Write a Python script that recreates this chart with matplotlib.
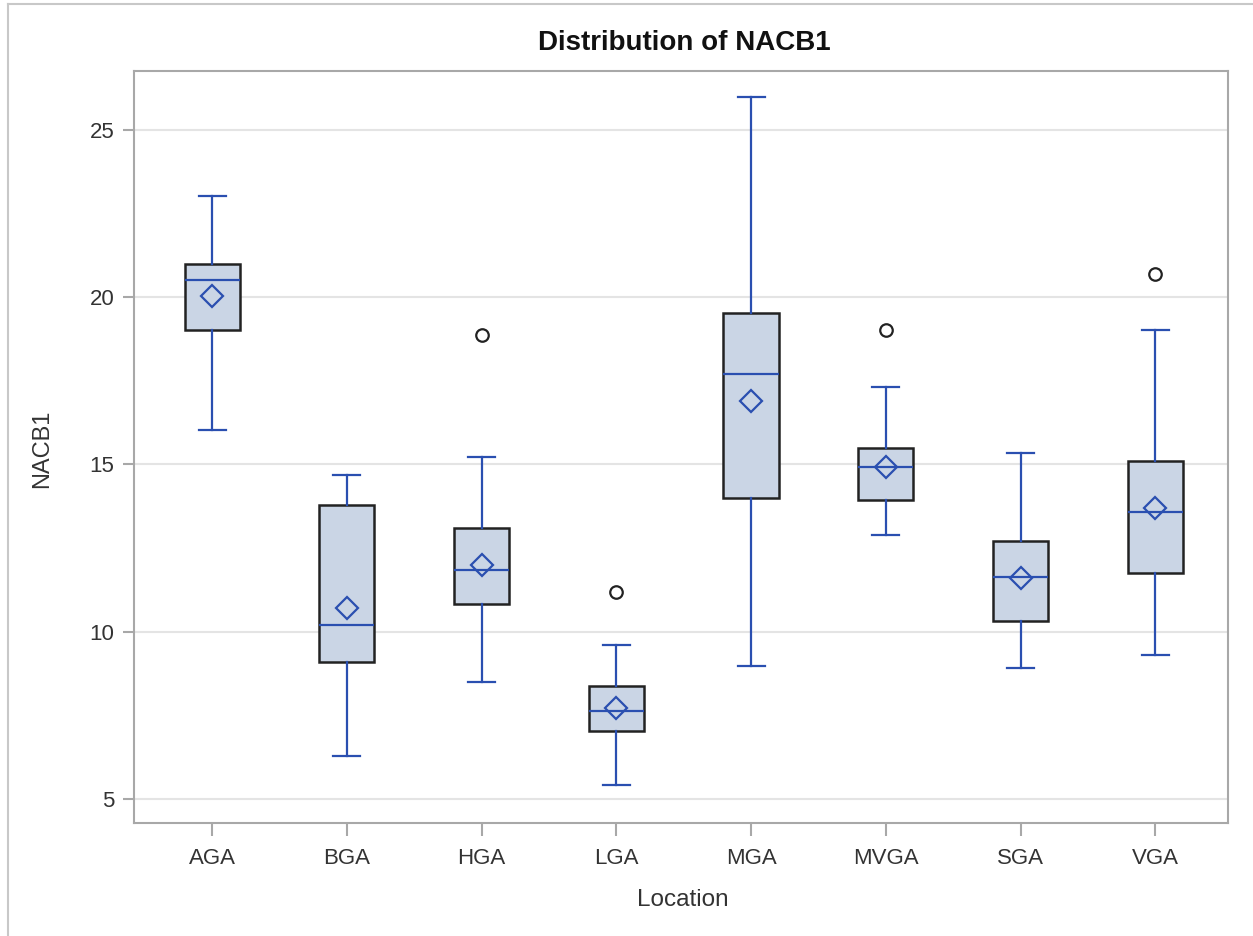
import numpy as np
import matplotlib.pyplot as plt
from matplotlib.lines import Line2D

plt.rcParams['font.family'] = ['Liberation Sans', 'DejaVu Sans']

# five-number summaries
locations = ['AGA', 'BGA', 'HGA', 'LGA', 'MGA', 'MVGA', 'SGA', 'VGA']
whisker_lo = [16.03, 6.29, 8.50, 5.42, 8.98, 12.89, 8.90, 9.30]
q1 = [19.02, 9.10, 10.83, 7.03, 14.00, 13.94, 10.32, 11.76]
median = [20.52, 10.20, 11.85, 7.63, 17.70, 14.92, 11.64, 13.58]
q3 = [20.99, 13.79, 13.10, 8.38, 19.53, 15.49, 12.71, 15.10]
whisker_hi = [23.03, 14.69, 15.22, 9.60, 25.99, 17.32, 15.34, 19.02]
means = [20.04, 10.71, 11.99, 7.72, 16.90, 14.92, 11.61, 13.70]
outliers = [[], [], [18.87], [11.19], [], [19.02], [], [20.70]]

blue = '#2A4FB0'
stats = []
for i, name in enumerate(locations):
    stats.append(dict(label=name, whislo=whisker_lo[i], q1=q1[i], med=median[i],
                      q3=q3[i], whishi=whisker_hi[i], mean=means[i], fliers=outliers[i]))

W, H = 1253, 936
fig = plt.figure(figsize=(W / 100, H / 100), dpi=100)
ax = fig.add_axes([134 / W, 1 - 823 / H, (1228 - 134) / W, (823 - 71) / H])

ax.bxp(stats, positions=np.arange(len(locations)), widths=0.41, patch_artist=True,
       showmeans=True, showfliers=True,
       boxprops=dict(facecolor='#CAD5E5', edgecolor='#222222', linewidth=1.8),
       whiskerprops=dict(color=blue, linewidth=1.6),
       capprops=dict(color=blue, linewidth=1.6),
       capwidths=0.2,
       medianprops=dict(color=blue, linewidth=1.6),
       meanprops=dict(marker='D', markerfacecolor='none', markeredgecolor=blue,
                      markeredgewidth=1.6, markersize=11),
       flierprops=dict(marker='o', markerfacecolor='none', markeredgecolor='#222222',
                       markeredgewidth=1.6, markersize=9),
       zorder=3)

ax.set_xlim(-0.58, 7.54)
ax.set_ylim(4.28, 26.76)
ax.set_yticks([5, 10, 15, 20, 25])
ax.yaxis.grid(True, color='#E4E4E4', linewidth=1.5, zorder=0)
ax.set_axisbelow(True)
for s in ax.spines.values():
    s.set_color('#A8A8A8')
    s.set_linewidth(1.5)
ax.tick_params(colors='#A8A8A8', labelcolor='#333333', labelsize=16, width=1.5)
ax.tick_params(axis='x', length=9, pad=9)
ax.tick_params(axis='y', length=8, pad=6)

fig.text(683 / W, 1 - 900 / H, 'Location', ha='center', va='center',
         fontsize=17.5, color='#333333')
fig.text(42 / W, 1 - 449 / H, 'NACB1', ha='center', va='center', rotation=90,
         fontsize=17, color='#333333')
fig.text(684 / W, 1 - 43 / H, 'Distribution of NACB1', ha='center', va='center',
         fontsize=20, fontweight='bold', color='#111111')

# light frame on the top and left edges
fig.add_artist(Line2D([8 / W, 1], [1 - 4 / H, 1 - 4 / H], transform=fig.transFigure,
                      color='#C8C8C8', linewidth=1.5))
fig.add_artist(Line2D([8 / W, 8 / W], [0, 1 - 4 / H], transform=fig.transFigure,
                      color='#C8C8C8', linewidth=1.5))

fig.savefig('out.png', dpi=100)
